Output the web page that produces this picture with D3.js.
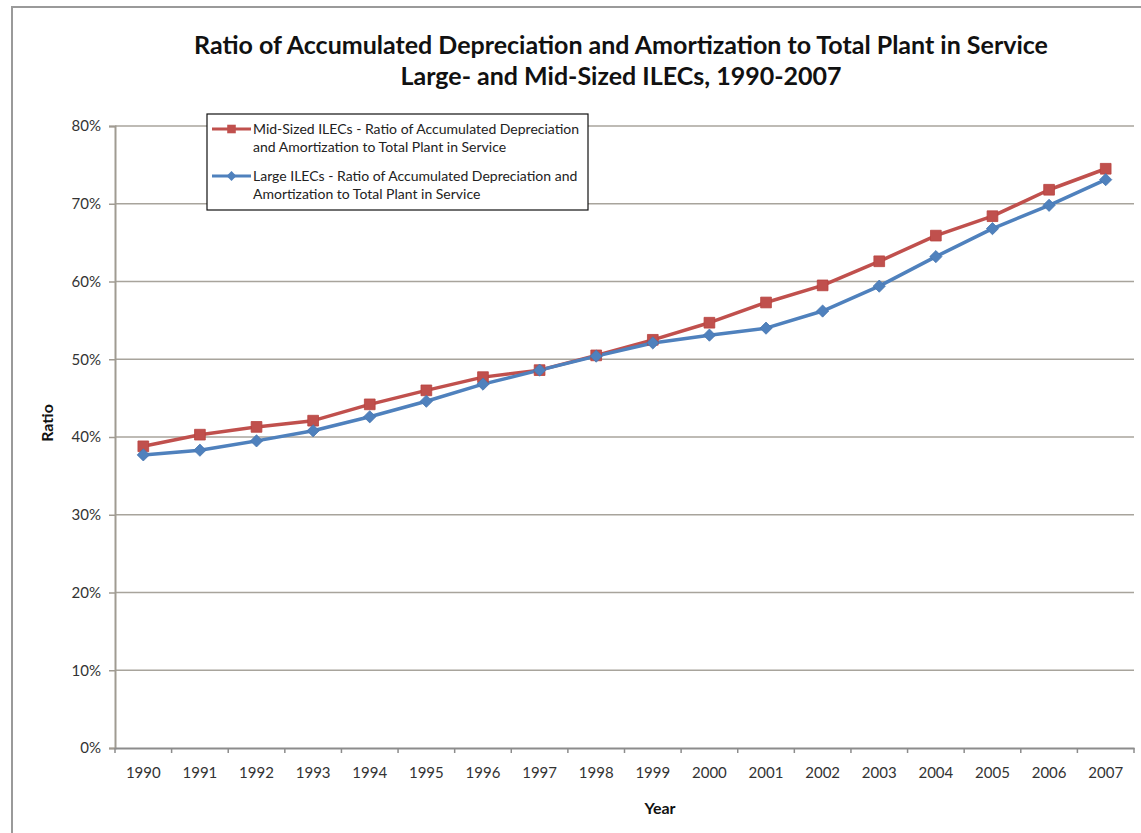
<!DOCTYPE html>
<html>
<head>
<meta charset="utf-8">
<script src="https://cdn.jsdelivr.net/npm/d3@7"></script>
<style>
  html, body { margin: 0; padding: 0; background: #fff; }
  svg { display: block; }
  text { font-family: Lato, "Open Sans", "DejaVu Sans", sans-serif; }
</style>
</head>
<body>
<svg id="chart" width="1141" height="833"></svg>
<script>
// Years on the category axis
const years = ["1990","1991","1992","1993","1994","1995","1996","1997","1998",
               "1999","2000","2001","2002","2003","2004","2005","2006","2007"];

// Ratio of accumulated depreciation & amortization to total plant in service
const midSized = [0.388,0.403,0.413,0.421,0.442,0.460,0.477,0.486,0.505,
                  0.525,0.547,0.573,0.595,0.626,0.659,0.684,0.718,0.745];
const large    = [0.377,0.383,0.395,0.408,0.426,0.446,0.468,0.486,0.504,
                  0.521,0.531,0.540,0.562,0.594,0.632,0.668,0.698,0.731];

const yTicks = [0,0.1,0.2,0.3,0.4,0.5,0.6,0.7,0.8];

const seriesNames = [
  ["Mid-Sized ILECs - Ratio of Accumulated Depreciation", "and Amortization to Total Plant in Service"],
  ["Large ILECs - Ratio of Accumulated Depreciation and", "Amortization to Total Plant in Service"]
];

const svg = d3.select("#chart");

// outer chart frame
svg.append("rect")
  .attr("x", 12).attr("y", 7).attr("width", 1140).attr("height", 840)
  .attr("fill", "none").attr("stroke", "#9a9a9a").attr("stroke-width", 2);

const plot = { left: 115, right: 1134, top: 126, bottom: 748 };

const x = d3.scaleBand().domain(years).range([plot.left, plot.right]).padding(0);
const y = d3.scaleLinear().domain([0, 0.8]).range([plot.bottom, plot.top]);

const axisColor = "#a09b92";

// horizontal gridlines
svg.append("g").selectAll("line")
  .data(yTicks.filter(d => d > 0))
  .join("line")
  .attr("x1", plot.left).attr("x2", plot.right)
  .attr("y1", d => y(d)).attr("y2", d => y(d))
  .attr("stroke", "#a8a49c").attr("stroke-width", 1.5);

// y axis
const yAxis = svg.append("g")
  .attr("transform", `translate(${plot.left},0)`)
  .call(d3.axisLeft(y).tickValues(yTicks).tickFormat(d3.format(".0%")).tickSize(6).tickPadding(8));
yAxis.select(".domain").attr("stroke", axisColor).attr("stroke-width", 2);
yAxis.selectAll(".tick line").attr("stroke", axisColor).attr("stroke-width", 1.5);
yAxis.selectAll(".tick text").attr("font-size", 15).attr("fill", "#333");

// x axis with tick marks on category boundaries
const xAxis = svg.append("g")
  .attr("transform", `translate(0,${plot.bottom})`)
  .call(d3.axisBottom(x).tickSize(0).tickPadding(19));
xAxis.select(".domain").attr("stroke", "#8c8c8c").attr("stroke-width", 2);
xAxis.selectAll(".tick text").attr("font-size", 15).attr("fill", "#333");
xAxis.append("g").selectAll("line")
  .data(years.map(d => x(d)).concat([plot.right]))
  .join("line")
  .attr("x1", d => d).attr("x2", d => d)
  .attr("y1", 0).attr("y2", 5)
  .attr("stroke", "#8c8c8c").attr("stroke-width", 1.5);

// series lines
const cx = i => x(years[i]) + x.bandwidth() / 2;
const line = d3.line().x((d, i) => cx(i)).y(d => y(d));

const red = "#c0504d", blue = "#4f81bd";

svg.append("path").datum(midSized).attr("d", line)
  .attr("fill", "none").attr("stroke", red).attr("stroke-width", 3.5)
  .attr("stroke-linejoin", "round");
svg.append("path").datum(large).attr("d", line)
  .attr("fill", "none").attr("stroke", blue).attr("stroke-width", 3.5)
  .attr("stroke-linejoin", "round");

// markers
const sq = d3.symbol().type(d3.symbolSquare).size(115);
const dia = d3.symbol().type(d3.symbolDiamond2).size(95);

svg.append("g").selectAll("path")
  .data(midSized).join("path")
  .attr("d", sq)
  .attr("transform", (d, i) => `translate(${cx(i)},${y(d)})`)
  .attr("fill", red).attr("stroke", "#b8433f").attr("stroke-width", 0.8);
svg.append("g").selectAll("path")
  .data(large).join("path")
  .attr("d", dia)
  .attr("transform", (d, i) => `translate(${cx(i)},${y(d)})`)
  .attr("fill", blue).attr("stroke", "#4776b0").attr("stroke-width", 0.8);

// title
const title = svg.append("g").attr("font-weight", "bold").attr("font-size", 25)
  .attr("fill", "#111").attr("text-anchor", "middle");
title.append("text").attr("x", 621).attr("y", 54)
  .text("Ratio of Accumulated Depreciation and Amortization to Total Plant in Service");
title.append("text").attr("x", 621).attr("y", 85)
  .text("Large- and Mid-Sized ILECs, 1990-2007");

// axis titles
svg.append("text").attr("x", 660).attr("y", 814)
  .attr("text-anchor", "middle").attr("font-weight", "bold").attr("font-size", 16)
  .attr("fill", "#111").text("Year");
svg.append("text")
  .attr("transform", "translate(53,423) rotate(-90)")
  .attr("text-anchor", "middle").attr("font-weight", "bold").attr("font-size", 16)
  .attr("fill", "#111").text("Ratio");

// legend
const lg = svg.append("g");
lg.append("rect").attr("x", 207).attr("y", 114).attr("width", 381).attr("height", 96)
  .attr("fill", "#fff").attr("stroke", "#111").attr("stroke-width", 1.2);

const legendItems = [
  { color: red, sym: sq, lines: seriesNames[0], y0: 129 },
  { color: blue, sym: dia, lines: seriesNames[1], y0: 176 }
];
legendItems.forEach(it => {
  lg.append("line").attr("x1", 212).attr("x2", 251)
    .attr("y1", it.y0).attr("y2", it.y0)
    .attr("stroke", it.color).attr("stroke-width", 3);
  lg.append("path").attr("d", it.sym)
    .attr("transform", `translate(231.5,${it.y0}) scale(0.8)`)
    .attr("fill", it.color);
  it.lines.forEach((t, k) => {
    lg.append("text").attr("x", 253).attr("y", it.y0 + 5 + k * 18)
      .attr("font-size", 14).attr("fill", "#222").text(t);
  });
});
</script>
</body>
</html>
